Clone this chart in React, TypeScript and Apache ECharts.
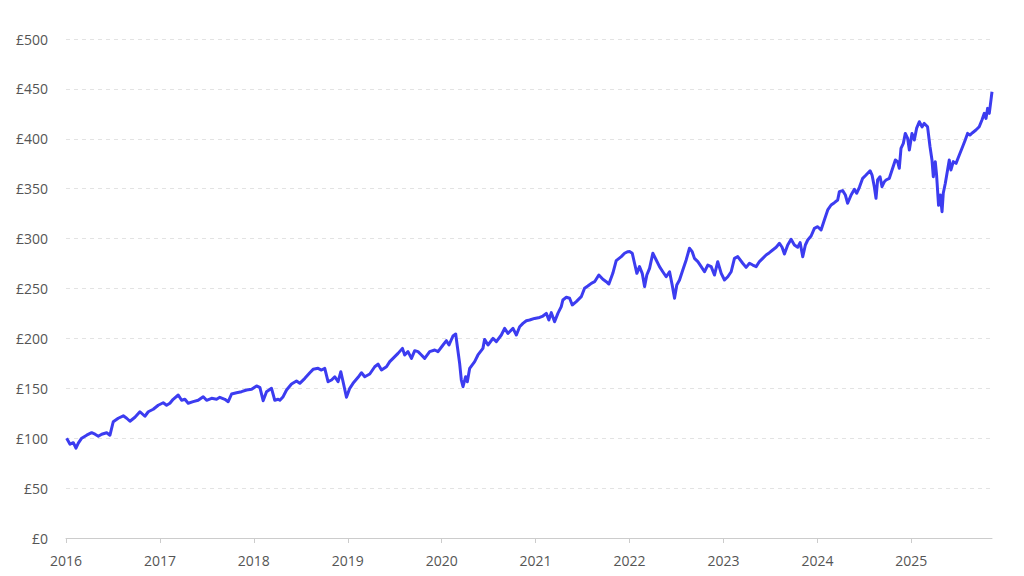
import React, { useEffect, useRef } from "react";
import * as echarts from "echarts";

// Decimal-year time positions and portfolio values (£)
const times: number[] = [
  2016.007, 2016.043, 2016.078, 2016.106, 2016.131, 2016.167, 2016.22, 2016.273, 2016.309, 2016.344,
  2016.38, 2016.433, 2016.468, 2016.503, 2016.556, 2016.61, 2016.646, 2016.681, 2016.734, 2016.787,
  2016.84, 2016.876, 2016.929, 2016.982, 2017.035, 2017.071,
  2017.106, 2017.141, 2017.195, 2017.231, 2017.266, 2017.301, 2017.354, 2017.407, 2017.461, 2017.497,
  2017.55, 2017.603, 2017.638, 2017.691, 2017.727, 2017.763, 2017.816, 2017.869, 2017.922, 2017.976,
  2018.029, 2018.064, 2018.099, 2018.135, 2018.188, 2018.223, 2018.259,
  2018.277, 2018.312, 2018.348, 2018.401, 2018.454, 2018.489, 2018.543, 2018.596, 2018.631, 2018.684,
  2018.72, 2018.755, 2018.79, 2018.827, 2018.862, 2018.897, 2018.926, 2018.95, 2018.986, 2019.021,
  2019.056, 2019.11, 2019.146, 2019.181, 2019.234, 2019.287, 2019.322, 2019.359, 2019.412,
  2019.447, 2019.482, 2019.535, 2019.582, 2019.606, 2019.641, 2019.678, 2019.713, 2019.748, 2019.784,
  2019.819, 2019.872, 2019.926, 2019.961, 2020.014, 2020.05, 2020.078, 2020.12, 2020.149, 2020.167,
  2020.191, 2020.209, 2020.227, 2020.255, 2020.273, 2020.298, 2020.351, 2020.386, 2020.439, 2020.457,
  2020.493, 2020.546, 2020.582, 2020.635, 2020.67, 2020.705,
  2020.723, 2020.759, 2020.795, 2020.83, 2020.865, 2020.901, 2020.936, 2020.989, 2021.043, 2021.078,
  2021.114, 2021.141, 2021.167, 2021.202, 2021.237, 2021.273, 2021.29, 2021.327, 2021.362, 2021.39,
  2021.433, 2021.486, 2021.521, 2021.556, 2021.593, 2021.628, 2021.673, 2021.716, 2021.752, 2021.78,
  2021.822, 2021.858, 2021.912, 2021.947, 2021.982,
  2022.0, 2022.029, 2022.053, 2022.078, 2022.106, 2022.135, 2022.16, 2022.184, 2022.213, 2022.248,
  2022.284, 2022.319, 2022.354, 2022.39, 2022.426, 2022.454, 2022.479, 2022.503, 2022.532, 2022.567,
  2022.603, 2022.638, 2022.667, 2022.691, 2022.727, 2022.763, 2022.798, 2022.833, 2022.869, 2022.904,
  2022.939, 2022.976, 2023.011, 2023.046, 2023.082, 2023.117, 2023.152,
  2023.205, 2023.241, 2023.277, 2023.312, 2023.348, 2023.383, 2023.418, 2023.454, 2023.489, 2023.524,
  2023.561, 2023.596, 2023.624, 2023.649, 2023.684, 2023.72, 2023.755, 2023.79, 2023.816, 2023.844,
  2023.872, 2023.897, 2023.933, 2023.968, 2024.003, 2024.039, 2024.074, 2024.11, 2024.146, 2024.181,
  2024.216, 2024.234, 2024.269, 2024.298, 2024.322, 2024.359, 2024.394, 2024.418, 2024.447, 2024.482,
  2024.518,
  2024.561, 2024.582, 2024.606, 2024.624, 2024.641, 2024.667, 2024.688, 2024.713, 2024.731, 2024.766,
  2024.801, 2024.83, 2024.854, 2024.872, 2024.89, 2024.915, 2024.936, 2024.961, 2024.979, 2025.007,
  2025.032, 2025.056, 2025.085, 2025.114, 2025.138, 2025.173, 2025.199, 2025.22, 2025.234, 2025.255,
  2025.269, 2025.29, 2025.309, 2025.327, 2025.34, 2025.362, 2025.386, 2025.404, 2025.422, 2025.447,
  2025.476, 2025.511, 2025.546, 2025.574, 2025.599, 2025.624, 2025.652, 2025.688, 2025.723, 2025.752,
  2025.777, 2025.795, 2025.812, 2025.83, 2025.848, 2025.859,
];

const values: number[] = [
  100, 94, 95.5, 90, 95, 100, 103, 105.5, 104, 102,
  104, 105.5, 103, 116.5, 120, 122.4, 120, 117, 121, 126.5,
  122, 126.5, 129, 133, 135.5, 133,
  135, 139, 143.3, 138, 139, 135, 136.6, 138, 141.6, 138,
  140, 139, 141, 139, 136.6, 144.3, 145.6, 146.6, 148.3, 149,
  152.3, 151, 137.6, 146.6, 150, 138, 139,
  138, 141.6, 148.3, 154.3, 157.3, 155, 160, 165.6, 169, 170,
  168.3, 170, 156.6, 158.3, 161.6, 156.6, 166.6, 156.6, 141, 150,
  155, 161, 165.6, 161.6, 164.3, 171.6, 174.3, 168.3, 171.6,
  176.7, 180, 185, 190, 183.4, 186.7, 180, 187.7, 186.7, 183.4,
  180, 186.7, 188.4, 186.7, 193.4, 197.7, 193.4, 202.4, 204.4, 191.7,
  175, 158.3, 151.6, 161.6, 156.6, 170, 176.7, 183.4, 190, 199,
  193.4, 200, 196.7, 203.4, 210, 205,
  206.7, 210, 203.4, 211.7, 215, 217.7, 218.4, 220, 221, 222.4,
  225.1, 218.4, 225.8, 216.7, 225.1, 231.8, 238.5, 241.2, 240.2, 233.5,
  236.8, 241.8, 250.2, 252.5, 255.2, 256.8, 263.5, 259.2, 256.8, 254.5,
  265.2, 277.9, 281.9, 285.3, 286.9,
  287, 285.3, 275.3, 265.2, 271.9, 265.2, 251.9, 263.5, 270.2, 285.3,
  278.6, 271.9, 266.8, 261.8, 266.8, 253.5, 240.2, 253.5, 258.5, 268.5,
  278.6, 290.3, 286.9, 280.2, 276.9, 271.9, 266.8, 273.5, 271.9, 263.5,
  276.9, 265.2, 258.5, 261.8, 266.8, 280.2, 281.9,
  275.3, 271.2, 275.3, 273.5, 271.9, 277, 280.2, 283.6, 285.9, 288.6,
  291.3, 295.3, 291.3, 284.6, 293.6, 299.3, 293.6, 291.3, 296, 281.9,
  293.6, 298.6, 302.6, 310.3, 311.9, 308.6, 318.6, 328.7, 333.7, 336,
  338.7, 347.1, 348.1, 343.7, 335.4, 343.7, 349.4, 345.4, 351.4, 360.4,
  363.7,
  368, 363.7, 352, 340.4, 358.7, 362, 352, 357, 358.7, 360.4,
  370.4, 378.8, 377.1, 370.4, 390.4, 395.4, 405.4, 400.4, 388.8, 405.4,
  398.8, 410.4, 417.1, 412, 415.4, 412, 392, 378.8, 362, 377.1,
  363.7, 333.3, 343.7, 327, 345.4, 355.4, 368.8, 378.8, 368.8, 377.1,
  375.4, 383.8, 392.1, 398.8, 405.4, 403.8, 406.1, 408.8, 412.1, 418.8,
  425.5, 420.4, 430.5, 425.5, 438.8, 447.1,
];

const yearTicks: number[] = [2016, 2017, 2018, 2019, 2020, 2021, 2022, 2023, 2024, 2025];

const FONT = "Open Sans";

export default function App() {
  const ref = useRef<HTMLDivElement>(null);

  useEffect(() => {
    if (!ref.current) return;
    const chart = echarts.init(ref.current, null, { renderer: "svg" });
    const data = times.map((t, i) => [t, values[i]]);
    chart.setOption({
      animation: false,
      backgroundColor: "#ffffff",
      grid: { left: 66, right: 32, top: 39, bottom: 38, containLabel: false },
      xAxis: {
        type: "value",
        min: 2016,
        max: times[times.length - 1],
        splitLine: { show: false },
        axisLine: { show: true, lineStyle: { color: "#cccccc", width: 1 } },
        axisTick: {
          show: true,
          length: 5,
          lineStyle: { color: "#cccccc" },
          customValues: yearTicks,
        },
        axisLabel: {
          customValues: yearTicks,
          formatter: (v: number) => String(Math.round(v)),
          color: "#555555",
          fontFamily: FONT,
          fontSize: 14,
          margin: 15,
        },
      },
      yAxis: {
        type: "value",
        min: 0,
        max: 500,
        interval: 50,
        axisLine: { show: false },
        axisTick: { show: false },
        splitLine: {
          show: true,
          lineStyle: { color: "#e3e3e3", type: [4, 4], width: 1 },
        },
        axisLabel: {
          formatter: (v: number) => "£" + v,
          color: "#555555",
          fontFamily: FONT,
          fontSize: 14,
          margin: 18,
        },
      },
      series: [
        {
          type: "line",
          data,
          showSymbol: false,
          smooth: false,
          lineStyle: { color: "#3c3cf0", width: 3, join: "round" },
          itemStyle: { color: "#3c3cf0" },
          z: 3,
        },
      ],
    });
    return () => chart.dispose();
  }, []);

  return <div ref={ref} style={{ width: 1024, height: 576, position: "absolute", left: 0, top: 0 }} />;
}
